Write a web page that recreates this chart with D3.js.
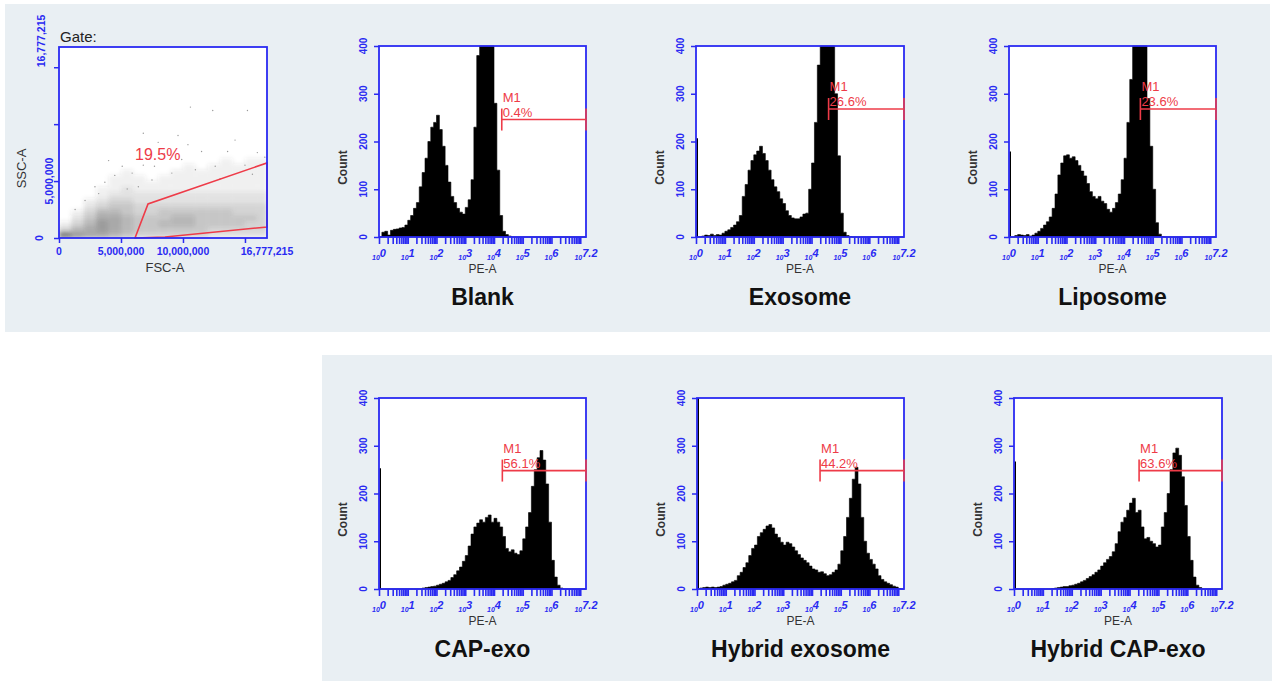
<!DOCTYPE html>
<html>
<head>
<meta charset="utf-8">
<script src="https://cdn.jsdelivr.net/npm/d3@7"></script>
<style>
    body { margin: 0; background: #fff; }
    svg { display: block; }
    text { font-family: "Liberation Sans", Arial, sans-serif; }
</style>
</head>
<body>
<div id="chart"></div>
<script>
// histogram data: counts per 0.1-decade channel of PE-A, from 10^0 to 10^7.2
var binStep = 0.1;
var sampleNames = ["Blank", "Exosome", "Liposome", "CAP-exo", "Hybrid exosome", "Hybrid CAP-exo"];

var blankCounts = [0, 10, 12, 4, 14, 16, 17, 19, 20, 25, 35, 45, 60, 72, 105, 135, 165, 200, 230, 240,
    255, 225, 190, 150, 115, 85, 72, 60, 52, 48, 62, 78, 120, 230, 380, 470, 520, 530, 490, 410,
    280, 140, 45, 12, 5, 2, 0, 0, 0, 0, 0, 0, 0, 0, 0, 0, 0, 0, 0, 0,
    0, 0, 0, 0, 0, 0, 0, 0, 0, 0, 0, 0];
var exosomeCounts = [0, 0, 2, 4, 3, 6, 3, 5, 4, 8, 12, 15, 20, 25, 32, 45, 85, 110, 140, 160,
    172, 180, 190, 175, 160, 140, 120, 105, 95, 80, 70, 55, 45, 40, 38, 38, 42, 48, 50, 100,
    155, 240, 360, 450, 540, 560, 530, 410, 300, 170, 50, 10, 3, 1, 0, 0, 0, 0, 0, 0,
    0, 0, 0, 0, 0, 0, 0, 0, 0, 0, 0, 0];
var liposomeCounts = [0, 0, 3, 5, 4, 3, 5, 2, 4, 8, 12, 18, 25, 32, 42, 60, 90, 130, 155, 170,
    172, 165, 168, 160, 150, 138, 128, 112, 95, 85, 80, 85, 75, 70, 58, 52, 60, 72, 90, 120,
    165, 240, 330, 420, 520, 540, 480, 410, 290, 190, 100, 30, 6, 1, 0, 0, 0, 0, 0, 0,
    0, 0, 0, 0, 0, 0, 0, 0, 0, 0, 0, 0];
var capExoCounts = [0, 0, 0, 0, 0, 0, 0, 0, 0, 0, 0, 0, 0, 0, 0, 2, 3, 4, 5, 6,
    8, 10, 12, 15, 18, 24, 30, 38, 46, 58, 70, 90, 115, 130, 138, 145, 140, 150, 155, 140,
    148, 140, 130, 110, 85, 78, 82, 75, 72, 80, 105, 130, 160, 215, 250, 275, 290, 270, 220, 140,
    60, 25, 8, 2, 0, 0, 0, 0, 0, 0, 0, 0];
var hybridExoCounts = [0, 2, 3, 4, 3, 4, 3, 4, 5, 8, 10, 12, 15, 18, 28, 35, 45, 55, 70, 85,
    92, 110, 118, 125, 132, 135, 128, 115, 108, 98, 92, 98, 95, 88, 80, 72, 65, 60, 55, 48,
    42, 40, 35, 36, 32, 28, 30, 35, 40, 52, 80, 110, 150, 190, 230, 255, 220, 150, 100, 75,
    62, 52, 42, 28, 20, 15, 12, 9, 6, 4, 1, 0];
var hybridCapCounts = [0, 0, 0, 0, 0, 0, 0, 0, 0, 0, 0, 0, 0, 1, 2, 3, 4, 5, 5, 7,
    8, 10, 12, 15, 18, 22, 26, 30, 35, 40, 48, 55, 62, 68, 78, 95, 120, 140, 150, 165,
    180, 190, 160, 165, 130, 105, 108, 100, 95, 88, 92, 130, 160, 200, 250, 285, 295, 280, 235, 175,
    110, 60, 25, 8, 3, 0, 0, 0, 0, 0, 0, 0];
var histCounts = [blankCounts, exosomeCounts, liposomeCounts, capExoCounts, hybridExoCounts, hybridCapCounts];

// events piled in the lowest channel (drawn as a thin line at the left edge)
var lowChannel = [0, 207, 179, 253, 450, 267];

// M1 marker: start (log decades), count level, percentage
var m1Start = [4.27, 4.59, 4.57, 4.29, 4.28, 4.33];
var m1Level = [246, 268, 268, 248, 248, 248];
var m1Pct = ["0.4%", "26.6%", "23.6%", "56.1%", "44.2%", "63.6%"];

var countTicks = [0, 100, 200, 300, 400];
var decadeTicks = [0, 1, 2, 3, 4, 5, 6, 7.2];
var decadeLabels = ["0", "1", "2", "3", "4", "5", "6", "7.2"];

// scatter (FSC-A vs SSC-A, in millions): density per 1M x 0.5M cell, rows bottom-up
var fscCols = [0, 1, 2, 3, 4, 5, 6, 7, 8, 9, 10, 11, 12, 13, 14, 15, 16];
var sscRows = [0, 0.5, 1, 1.5, 2, 2.5, 3, 3.5, 4, 4.5, 5, 5.5, 6, 6.5, 7, 7.5];
var scatterDensity = [
    [9, 7, 6, 6, 5, 4, 3, 3, 3, 3, 3, 3, 2, 2, 2, 2, 2],
    [3, 5, 6, 7, 6, 5, 4, 4, 4, 4, 4, 4, 3, 3, 3, 3, 3],
    [1, 3, 5, 7, 6, 5, 4, 4, 5, 5, 5, 4, 4, 4, 4, 3, 3],
    [0, 2, 4, 6, 6, 5, 4, 4, 4, 5, 5, 4, 4, 4, 4, 4, 3],
    [0, 1, 3, 5, 5, 4, 3, 3, 4, 4, 4, 4, 4, 4, 3, 3, 3],
    [0, 0, 2, 3, 4, 4, 3, 3, 3, 3, 3, 3, 3, 3, 3, 3, 3],
    [0, 0, 1, 2, 3, 3, 2, 2, 2, 2, 2, 2, 2, 2, 2, 2, 2],
    [0, 0, 0, 1, 2, 2, 2, 2, 2, 2, 2, 2, 2, 2, 2, 2, 2],
    [0, 0, 0, 1, 1, 2, 1, 1, 1, 1, 1, 1, 1, 1, 1, 1, 1],
    [0, 0, 0, 0, 1, 1, 1, 1, 1, 1, 1, 1, 1, 1, 1, 1, 1],
    [0, 0, 0, 0, 1, 1, 1, 0, 1, 1, 1, 1, 1, 1, 1, 1, 1],
    [0, 0, 0, 0, 0, 1, 0, 0, 0, 1, 1, 1, 1, 1, 1, 1, 1],
    [0, 0, 0, 0, 0, 0, 0, 0, 0, 0, 1, 0, 1, 1, 1, 1, 1],
    [0, 0, 0, 0, 0, 0, 0, 0, 0, 0, 0, 0, 0, 1, 0, 1, 1],
    [0, 0, 0, 0, 0, 0, 0, 0, 0, 0, 0, 0, 0, 0, 0, 0, 0],
    [0, 0, 0, 0, 0, 0, 0, 0, 0, 0, 0, 0, 0, 0, 0, 0, 0]
];
var sparseEvents = [[10.6, 11.5], [12.4, 11.2], [15.2, 11.2], [6.8, 9.2], [10.4, 8.2], [8.5, 7.4],
    [11.5, 7.6], [13.6, 7.6], [16.0, 7.5], [6.8, 6.4], [5.9, 5.7], [4.5, 5.5], [3.7, 4.9], [2.9, 4.5],
    [7.5, 5.1], [9.1, 5.7], [11.0, 6.0], [12.6, 6.3], [15.0, 6.4], [16.6, 7.1], [9.9, 6.9], [7.7, 6.3],
    [5.1, 6.3], [6.4, 4.5], [2.1, 3.3], [1.3, 2.5], [14.2, 8.6], [9.6, 9.0], [4.0, 6.8], [8.0, 8.4],
    [13.0, 5.2], [15.6, 5.6], [3.2, 3.9], [5.5, 4.3]];
var gatePoints = [[6.13, 0], [7.18, 2.99], [16.78, 6.59], [16.78, 0.97], [8.55, 0.09]];
var gatePct = "19.5%";
var scatterMax = 16.777215;

// layout
var W = 1272, H = 681;
var plotH = 191;
var panelBoxes = [
    { x: 379, y: 46, w: 207 }, { x: 696, y: 46, w: 208 }, { x: 1009, y: 46, w: 207 },
    { x: 379, y: 398, w: 207 }, { x: 697, y: 398, w: 207 }, { x: 1014, y: 398, w: 208 }
];
var blue = "#2a2af2", red = "#ee3b48", bgBand = "#e9eff3";

var svg = d3.select("#chart").append("svg")
    .attr("width", W)
    .attr("height", H);

svg.append("rect").attr("x", 5).attr("y", 4).attr("width", 1265).attr("height", 328).attr("fill", bgBand);
svg.append("rect").attr("x", 322).attr("y", 355).attr("width", 950).attr("height", 326).attr("fill", bgBand);

var defs = svg.append("defs");
defs.append("filter").attr("id", "haze")
    .attr("x", "-10%").attr("y", "-10%").attr("width", "120%").attr("height", "120%")
    .append("feGaussianBlur").attr("stdDeviation", 2.2);

function drawHist(i)
{
    var b = panelBoxes[i];
    var g = svg.append("g").attr("transform", "translate(" + b.x + "," + b.y + ")");

    var x = d3.scaleLog().domain([1, Math.pow(10, 7.2)]).range([0, b.w]);
    var y = d3.scaleLinear().domain([0, 400]).range([plotH, 0]);

    g.append("rect").attr("width", b.w).attr("height", plotH).attr("fill", "#fff");

    var counts = histCounts[i];
    var steps = counts.map(function (v, k) { return { e: k * binStep, v: v }; });
    steps.push({ e: counts.length * binStep, v: counts[counts.length - 1] });

    var area = d3.area()
        .curve(d3.curveStepAfter)
        .x(function (d) { return x(Math.pow(10, d.e)); })
        .y0(plotH)
        .y1(function (d) { return y(Math.min(d.v, 400)); });

    g.append("path")
        .datum(steps)
        .attr("d", area)
        .attr("fill", "#000")
        .attr("stroke", "#000")
        .attr("stroke-width", 0.6);

    if (lowChannel[i] > 0) {
        g.append("line")
            .attr("x1", 1.2).attr("x2", 1.2)
            .attr("y1", y(0)).attr("y2", y(Math.min(lowChannel[i], 400)))
            .attr("stroke", "#000").attr("stroke-width", 1.6);
    }

    // minor log ticks under the axis
    var xAxis = g.append("g")
        .attr("transform", "translate(0," + plotH + ")")
        .call(d3.axisBottom(x).tickValues(x.ticks()).tickSize(7).tickSizeOuter(0).tickFormat(""));
    xAxis.select(".domain").remove();
    xAxis.selectAll("line").attr("stroke", blue).attr("stroke-width", 1.6);

    var yAxis = g.append("g")
        .call(d3.axisLeft(y).tickValues(countTicks).tickSize(5).tickSizeOuter(0).tickFormat(""));
    yAxis.select(".domain").remove();
    yAxis.selectAll("line").attr("stroke", blue).attr("stroke-width", 1.5);

    g.append("rect").attr("width", b.w).attr("height", plotH)
        .attr("fill", "none").attr("stroke", blue).attr("stroke-width", 1.8);

    g.selectAll(".ylab")
        .data(countTicks)
        .enter().append("text")
        .attr("transform", function (d) { return "translate(-12," + y(d) + ") rotate(-90)"; })
        .attr("text-anchor", "middle")
        .attr("font-size", 10).attr("font-weight", "bold")
        .attr("fill", blue)
        .text(function (d) { return d; });

    var dl = g.selectAll(".xlab")
        .data(decadeTicks)
        .enter().append("text")
        .attr("x", function (d) { return x(Math.pow(10, d)); })
        .attr("y", plotH + 23)
        .attr("text-anchor", "middle")
        .attr("font-weight", "bold").attr("font-style", "italic")
        .attr("fill", blue);
    dl.append("tspan").attr("font-size", 7).text("10");
    dl.append("tspan").attr("font-size", 11).attr("dy", -3)
        .text(function (d, k) { return decadeLabels[k]; });

    g.append("text")
        .attr("transform", "translate(-32," + (plotH / 2 + 26) + ") rotate(-90)")
        .attr("text-anchor", "middle")
        .attr("font-size", 12).attr("font-weight", "bold").attr("fill", "#333")
        .text("Count");

    g.append("text")
        .attr("x", b.w / 2).attr("y", plotH + 36)
        .attr("text-anchor", "middle")
        .attr("font-size", 12).attr("fill", "#333")
        .text("PE-A");

    g.append("text")
        .attr("x", b.w / 2).attr("y", plotH + 68)
        .attr("text-anchor", "middle")
        .attr("font-size", 23).attr("font-weight", "bold").attr("fill", "#111")
        .text(sampleNames[i]);

    // M1 marker
    var mx0 = x(Math.pow(10, m1Start[i])), mx1 = b.w, my = y(m1Level[i]);
    var m = g.append("g").attr("stroke", red).attr("stroke-width", 1.6);
    m.append("line").attr("x1", mx0).attr("x2", mx1).attr("y1", my).attr("y2", my);
    m.append("line").attr("x1", mx0).attr("x2", mx0).attr("y1", my - 11).attr("y2", my + 11);
    m.append("line").attr("x1", mx1).attr("x2", mx1).attr("y1", my - 11).attr("y2", my + 11);
    g.append("text").attr("x", mx0 + 1).attr("y", my - 18)
        .attr("font-size", 13).attr("fill", red).text("M1");
    g.append("text").attr("x", mx0 + 1).attr("y", my - 3)
        .attr("font-size", 13).attr("fill", red).text(m1Pct[i]);
}

function drawScatter()
{
    var b = { x: 59, y: 47, w: 208 };
    var g = svg.append("g").attr("transform", "translate(" + b.x + "," + b.y + ")");

    var sx = d3.scaleLinear().domain([0, scatterMax]).range([0, b.w]);
    var sy = d3.scaleLinear().domain([0, scatterMax]).range([plotH, 0]);

    g.append("rect").attr("width", b.w).attr("height", plotH).attr("fill", "#fff");
    defs.append("clipPath").attr("id", "scClip")
        .append("rect").attr("width", b.w).attr("height", plotH);

    var cells = [];
    scatterDensity.forEach(function (row, r) {
        row.forEach(function (v, c) {
            if (v > 0) cells.push({ r: r, c: c, v: v });
        });
    });

    var haze = g.append("g").attr("clip-path", "url(#scClip)")
        .append("g").attr("filter", "url(#haze)");
    haze.selectAll("rect")
        .data(cells)
        .enter().append("rect")
        .attr("x", function (d) { return sx(fscCols[d.c]); })
        .attr("width", function (d) { return sx(Math.min(fscCols[d.c] + 1, scatterMax)) - sx(fscCols[d.c]); })
        .attr("y", function (d) { return sy(sscRows[d.r] + 0.5); })
        .attr("height", function (d) { return sy(sscRows[d.r]) - sy(sscRows[d.r] + 0.5); })
        .attr("fill", "#4a4a4a")
        .attr("opacity", function (d) { return d.v / 9 * 0.72; });

    g.selectAll(".ev")
        .data(sparseEvents)
        .enter().append("circle")
        .attr("cx", function (d) { return sx(d[0]); })
        .attr("cy", function (d) { return sy(d[1]); })
        .attr("r", 0.7)
        .attr("fill", "#9a9a9a");

    var gate = d3.line()
        .x(function (d) { return sx(d[0]); })
        .y(function (d) { return sy(d[1]); });
    g.append("path")
        .attr("d", gate(gatePoints) + "Z")
        .attr("fill", "none").attr("stroke", red).attr("stroke-width", 1.6);

    g.append("text").attr("x", sx(6.13)).attr("y", sy(6.85))
        .attr("font-size", 16).attr("fill", red).text(gatePct);

    var xAxis = g.append("g")
        .attr("transform", "translate(0," + plotH + ")")
        .call(d3.axisBottom(sx).tickValues([0, 5, 10, 15]).tickSize(5).tickSizeOuter(0).tickFormat(""));
    xAxis.select(".domain").remove();
    xAxis.selectAll("line").attr("stroke", blue).attr("stroke-width", 1.5);

    var yAxis = g.append("g")
        .call(d3.axisLeft(sy).tickValues([0, 5, 10, 15]).tickSize(5).tickSizeOuter(0).tickFormat(""));
    yAxis.select(".domain").remove();
    yAxis.selectAll("line").attr("stroke", blue).attr("stroke-width", 1.5);

    g.append("rect").attr("width", b.w).attr("height", plotH)
        .attr("fill", "none").attr("stroke", blue).attr("stroke-width", 1.8);

    var xLabels = [[0, "0"], [5, "5,000,000"], [10, "10,000,000"], [scatterMax, "16,777,215"]];
    g.selectAll(".sxl")
        .data(xLabels)
        .enter().append("text")
        .attr("x", function (d) { return sx(d[0]); })
        .attr("y", plotH + 17)
        .attr("text-anchor", "middle")
        .attr("font-size", 10.5).attr("font-weight", "bold").attr("fill", blue)
        .text(function (d) { return d[1]; });

    var yLabels = [[0, "0", -16, "middle"], [5, "5,000,000", -6, "middle"], [15, "16,777,215", -14, "start"]];
    g.selectAll(".syl")
        .data(yLabels)
        .enter().append("text")
        .attr("transform", function (d) { return "translate(" + d[2] + "," + sy(d[0]) + ") rotate(-90)"; })
        .attr("text-anchor", function (d) { return d[3]; })
        .attr("font-size", 10.5).attr("font-weight", "bold").attr("fill", blue)
        .text(function (d) { return d[1]; });

    g.append("text").attr("x", 1).attr("y", -5)
        .attr("font-size", 15).attr("fill", "#222").text("Gate:");

    g.append("text")
        .attr("transform", "translate(-33," + (plotH / 2 + 26) + ") rotate(-90)")
        .attr("text-anchor", "middle")
        .attr("font-size", 13).attr("fill", "#333")
        .text("SSC-A");

    g.append("text")
        .attr("x", 106).attr("y", plotH + 34)
        .attr("text-anchor", "middle")
        .attr("font-size", 13).attr("fill", "#333")
        .text("FSC-A");
}

drawScatter();
for (var i = 0; i < sampleNames.length; i++) {
    drawHist(i);
}
</script>
</body>
</html>
